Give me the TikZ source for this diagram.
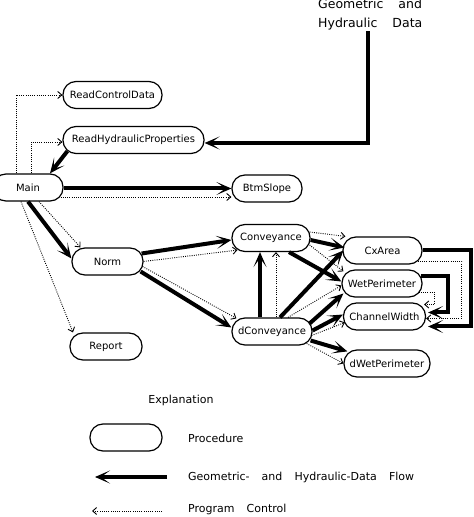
\documentclass[tikz,border=0pt]{standalone}
\usepackage{fontspec}
\setmainfont{DejaVu Sans}
\usetikzlibrary{arrows.meta}
\newcommand\widespace[1]{\spaceskip=#1\relax}
\begin{document}
\begin{tikzpicture}[x=1pt,y=1pt,
proc/.style={draw, line width=1.2pt, rounded corners=13pt, minimum height=27pt, inner sep=0pt, font=\fontsize{10}{12}\selectfont},
flow/.style={line width=4pt, -{Stealth[length=15pt,width=13pt,inset=9pt]}},
ctrl/.style={line width=0.9pt, dash pattern=on 0.9pt off 1.3pt, -{Straight Barb[length=4pt,width=7pt]}},
legtext/.style={font=\fontsize{11}{13}\selectfont, inner sep=0pt}]
\useasboundingbox (0,0) rectangle (474,517);
\node[inner sep=0pt, anchor=north west, align=left, font=\fontsize{12.5}{19}\selectfont] (geo) at (318,518){\widespace{1.2em}Geometric and\\\widespace{1.2em}Hydraulic Data};
\node[proc, minimum width=70pt] (main) at (28,329.5){Main};
\node[proc, minimum width=99pt] (readctl) at (112.5,422){ReadControlData};
\node[proc, minimum width=141pt] (readhyd) at (133.5,377){ReadHydraulicProperties};
\node[proc, minimum width=70pt] (btm) at (267,328.5){BtmSlope};
\node[proc, minimum width=71pt] (norm) at (107.5,255.5){Norm};
\node[proc, minimum width=72pt] (report) at (106,170.5){Report};
\node[proc, minimum width=78pt] (conv) at (271,279){Conveyance};
\node[proc, minimum width=80pt] (dconv) at (272,185.5){dConveyance};
\node[proc, minimum width=79pt] (cxa) at (382.5,266.5){CxArea};
\node[proc, minimum width=80pt] (wetp) at (382,233.5){WetPerimeter};
\node[proc, minimum width=82pt] (chw) at (384.5,200.5){ChannelWidth};
\node[proc, minimum width=86pt] (dwetp) at (387,153.5){dWetPerimeter};
\draw[flow]([xshift=50pt,yshift=-1pt]geo.south west) |- ([yshift=-3pt]readhyd.east);
\draw[ctrl]([xshift=-12pt]main.north) |- (readctl.west);
\draw[ctrl]([xshift=3pt]main.north) |- ([yshift=-2pt]readhyd.west);
\draw[flow]([xshift=5pt,yshift=3pt]readhyd.south west) -- ([xshift=22pt]main.north);
\draw[flow]([yshift=-1pt]main.east) -- (btm.west);
\draw[ctrl]([xshift=-3pt,yshift=-9.5pt]main.east) -- ([yshift=-8.5pt]btm.west);
\draw[flow](main.south) -- ([yshift=3pt]norm.west);
\draw[ctrl]([xshift=11pt]main.south) -- ([xshift=-27pt]norm.north);
\draw[ctrl]([xshift=-7pt]main.south) -- ([xshift=-33pt]report.north);
\draw[flow]([xshift=-2pt,yshift=8pt]norm.east) -- ([yshift=-2pt]conv.west);
\draw[ctrl](norm.east) -- ([xshift=6pt,yshift=2pt]conv.south west);
\draw[ctrl]([xshift=-1pt,yshift=-5pt]norm.east) -- ([xshift=5pt,yshift=-1pt]dconv.north west);
\draw[flow]([xshift=-3pt,yshift=-10pt]norm.east) -- ([yshift=4pt]dconv.west);
\draw[flow]([xshift=-12pt]dconv.north) -- ([xshift=-11pt]conv.south);
\draw[ctrl]([xshift=4pt]dconv.north) -- ([xshift=5pt]conv.south);
\draw[flow]([yshift=-2pt]conv.east) -- ([xshift=2pt,yshift=3pt]cxa.west);
\draw[ctrl]([xshift=-1pt,yshift=6pt]conv.east) -- ([xshift=3pt]cxa.north west);
\draw[ctrl]([xshift=-1pt,yshift=-7pt]conv.east) -- ([xshift=2pt,yshift=-2pt]wetp.north west);
\draw[flow]([xshift=18pt]conv.south) -- ([yshift=2pt]wetp.west);
\draw[flow]([xshift=8pt]dconv.north) -- ([xshift=1pt]cxa.west);
\draw[ctrl]([xshift=16pt]dconv.north) -- ([yshift=-2pt]wetp.west);
\draw[flow]([xshift=-3pt,yshift=8pt]dconv.east) -- ([xshift=2pt,yshift=-10pt]wetp.west);
\draw[flow]([yshift=1pt]dconv.east) -- ([yshift=2pt]chw.west);
\draw[ctrl]([xshift=-1pt,yshift=-4pt]dconv.east) -- ([xshift=2pt,yshift=-6pt]chw.west);
\draw[flow]([xshift=-2pt,yshift=-9pt]dconv.east) -- ([xshift=4pt,yshift=-2pt]dwetp.north west);
\draw[ctrl]([xshift=-6pt,yshift=-12pt]dconv.east) -- (dwetp.west);
\draw[flow](cxa.east) -- ++(48pt,0) |- ([xshift=2pt,yshift=-10pt]chw.east);
\draw[ctrl]([xshift=-5pt,yshift=-11pt]cxa.east) -- ++(44pt,0) |- ([yshift=-2pt]chw.east);
\draw[flow]([xshift=-2pt,yshift=7pt]wetp.east) -- ++(27pt,0) |- ([xshift=2pt,yshift=4pt]chw.east);
\draw[ctrl]([xshift=-4pt,yshift=-9pt]wetp.east) -- ++(16pt,0) |- ([xshift=-2pt,yshift=12pt]chw.east);
\node[legtext] (legtitle) at (181,117){Explanation};
\node[proc, minimum width=72pt] (legproc) at (126,79.5){};
\node[legtext, anchor=west] (legproctext) at (188,79){Procedure};
\coordinate (legflow1) at (167,40);
\coordinate (legflow0) at (95,40);
\draw[flow](legflow1) -- (legflow0);
\node[legtext, anchor=west] (legflowtext) at (188,40){\widespace{1.1em}Geometric- and Hydraulic-Data Flow};
\coordinate (legctrl1) at (162,6);
\coordinate (legctrl0) at (92,6);
\draw[ctrl](legctrl1) -- (legctrl0);
\node[legtext, anchor=west] (legctrltext) at (188,8){\widespace{1.1em}Program Control};
\end{tikzpicture}
\end{document}
